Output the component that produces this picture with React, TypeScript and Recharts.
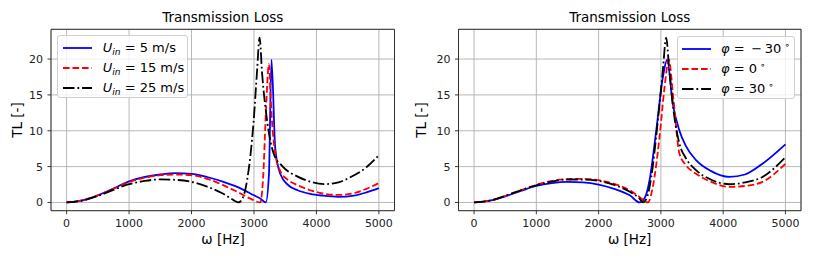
import React from "react";
import { LineChart, Line, XAxis, YAxis, CartesianGrid, ReferenceArea } from "recharts";

const FONT = '"DejaVu Sans", Verdana, sans-serif';

const X_TICKS = [0, 1000, 2000, 3000, 4000, 5000];
const Y_TICKS = [0, 5, 10, 15, 20];
const X_MIN = -250;
const X_MAX = 5250;
const Y_MIN = -1.15;
const Y_MAX = 24.15;

// left panel: inlet velocity U_in
const freqU5 = [0, 250, 500, 750, 1000, 1250, 1500, 1750, 2000, 2250, 2500, 2750, 3000, 3100, 3190, 3240, 3280, 3340, 3420, 3550, 3700, 3900, 4100, 4350, 4600, 4800, 5000];
const tlU5 = [0, 0.3, 1.0, 1.95, 2.95, 3.55, 3.9, 4.08, 4.0, 3.55, 2.9, 2.1, 1.0, 0.55, 0, 4.0, 19.9, 7.6, 4.0, 2.4, 1.7, 1.2, 0.95, 0.78, 0.95, 1.4, 2.0];

const freqU15 = [0, 250, 500, 750, 1000, 1250, 1500, 1750, 2000, 2250, 2500, 2750, 2950, 3100, 3150, 3190, 3240, 3265, 3290, 3345, 3420, 3550, 3700, 3900, 4100, 4350, 4600, 4800, 5000];
const tlU15 = [0, 0.3, 1.0, 1.9, 2.85, 3.45, 3.8, 3.9, 3.8, 3.3, 2.45, 1.4, 0.5, 0, 4.0, 12.5, 19.3, 15.0, 11.2, 6.6, 4.4, 3.1, 2.4, 1.7, 1.25, 1.05, 1.3, 1.9, 2.7];

const freqU25 = [0, 250, 500, 750, 1000, 1250, 1500, 1750, 2000, 2250, 2500, 2650, 2750, 2800, 2890, 2995, 3050, 3090, 3130, 3210, 3316, 3450, 3700, 3900, 4120, 4350, 4550, 4800, 5000];
const tlU25 = [0, 0.25, 0.9, 1.75, 2.55, 3.0, 3.22, 3.15, 2.87, 2.2, 1.25, 0.45, 0, 0.3, 3.1, 11.4, 18.4, 23.0, 18.0, 11.4, 6.8, 5.1, 3.6, 2.9, 2.55, 2.8, 3.55, 4.9, 6.6];

// right panel: angle phi
const freqPhiM30 = [0, 250, 500, 750, 1000, 1250, 1500, 1750, 2000, 2250, 2500, 2660, 2750, 2818, 2925, 3031, 3100, 3191, 3298, 3400, 3565, 3800, 4099, 4350, 4632, 5000];
const tlPhiM30 = [0, 0.25, 0.85, 1.6, 2.3, 2.7, 2.87, 2.8, 2.5, 1.9, 1.0, 0, 0.8, 3.1, 10.0, 17.4, 19.9, 13.75, 10.0, 7.9, 5.9, 4.4, 3.56, 3.9, 5.4, 8.1];

const freqPhi0 = [0, 250, 500, 750, 1000, 1250, 1500, 1750, 2000, 2250, 2500, 2650, 2790, 2871, 2978, 3058, 3127, 3200, 3298, 3400, 3565, 3800, 4099, 4350, 4632, 5000];
const tlPhi0 = [0, 0.25, 0.9, 1.7, 2.45, 3.0, 3.25, 3.3, 3.1, 2.6, 1.7, 0.8, 0, 2.2, 9.1, 16.0, 19.9, 14.5, 6.8, 5.2, 4.0, 2.9, 2.17, 2.3, 2.87, 5.4];

const freqPhi30 = [0, 250, 500, 750, 1000, 1250, 1500, 1750, 2000, 2250, 2500, 2650, 2712, 2780, 2845, 2951, 3031, 3085, 3130, 3200, 3298, 3400, 3565, 3800, 4099, 4350, 4632, 5000];
const tlPhi30 = [0, 0.25, 0.9, 1.7, 2.4, 2.9, 3.2, 3.2, 3.0, 2.45, 1.5, 0.6, 0, 0.8, 3.5, 11.4, 18.4, 23.0, 19.0, 13.0, 8.2, 6.2, 4.5, 3.2, 2.54, 2.8, 3.56, 6.3];

const toPoints = (xs: number[], ys: number[]) => xs.map((x, i) => ({ x, y: ys[i] }));

const LW = 1.8;
const SOLID = undefined;
const DASHED = "6.6 2.9";
const DASHDOT = "11.5 2.9 1.8 2.9";

const Sub = ({ children }: { children: React.ReactNode }) => (
  <span style={{ fontSize: "0.7em", fontStyle: "italic", position: "relative", top: "0.3em" }}>{children}</span>
);

const Deg = () => (
  <span style={{ fontSize: "0.7em", position: "relative", top: "-0.5em", marginLeft: 3 }}>∘</span>
);

const uLabel = (v: number) => (
  <span>
    <i>U</i>
    <Sub>in</Sub> = {v} m/s
  </span>
);

const phiLabel = (v: string) => (
  <span>
    <i>φ</i> = {v}
    <Deg />
  </span>
);

type Series = { key: string; label: React.ReactNode; color: string; dash?: string; data: { x: number; y: number }[] };

const leftSeries: Series[] = [
  { key: "u5", label: uLabel(5), color: "#0000ff", dash: SOLID, data: toPoints(freqU5, tlU5) },
  { key: "u15", label: uLabel(15), color: "#ff0000", dash: DASHED, data: toPoints(freqU15, tlU15) },
  { key: "u25", label: uLabel(25), color: "#000000", dash: DASHDOT, data: toPoints(freqU25, tlU25) },
];

const rightSeries: Series[] = [
  { key: "pm30", label: phiLabel("\u2009\u2212\u200930"), color: "#0000ff", dash: SOLID, data: toPoints(freqPhiM30, tlPhiM30) },
  { key: "p0", label: phiLabel("0"), color: "#ff0000", dash: DASHED, data: toPoints(freqPhi0, tlPhi0) },
  { key: "p30", label: phiLabel("30"), color: "#000000", dash: DASHDOT, data: toPoints(freqPhi30, tlPhi30) },
];

const LegendBox = ({ series, left, top, width, height, sampleX, textX }: {
  series: Series[]; left: number; top: number; width: number; height: number; sampleX: number; textX: number;
}) => (
  <div
    style={{
      position: "absolute",
      left,
      top,
      width,
      height,
      boxSizing: "border-box",
      border: "1px solid #d0d0d0",
      borderRadius: 3,
      background: "rgba(255,255,255,0.8)",
      fontFamily: FONT,
      fontSize: 13,
      color: "#000",
    }}
  >
    {series.map((s, i) => (
      <div key={s.key} style={{ position: "absolute", left: 0, top: 2 + i * 20, height: 20, width: "100%" }}>
        <svg style={{ position: "absolute", left: sampleX, top: 0 }} width={29} height={20}>
          <line x1={0} x2={29} y1={10} y2={10} stroke={s.color} strokeWidth={LW} strokeDasharray={s.dash} />
        </svg>
        <div style={{ position: "absolute", left: textX, top: 1, lineHeight: "18px", whiteSpace: "nowrap" }}>{s.label}</div>
      </div>
    ))}
  </div>
);

const Panel = ({ series, width, margin }: { series: Series[]; width: number; margin: { top: number; right: number; bottom: number; left: number } }) => (
  <LineChart width={width} height={261} margin={margin}>
    <CartesianGrid stroke="#b0b0b0" strokeWidth={0.9} />
    <XAxis
      dataKey="x"
      type="number"
      domain={[X_MIN, X_MAX]}
      ticks={X_TICKS}
      height={25}
      axisLine={false}
      tickSize={3.5}
      tickMargin={5}
      tickLine={{ stroke: "#222", strokeWidth: 0.9 }}
      tick={{ fontSize: 11, fontFamily: FONT, fill: "#222" }}
      allowDataOverflow
    />
    <YAxis
      dataKey="y"
      type="number"
      domain={[Y_MIN, Y_MAX]}
      ticks={Y_TICKS}
      width={40}
      axisLine={false}
      tickSize={3.5}
      tickMargin={4.5}
      tickLine={{ stroke: "#222", strokeWidth: 0.9 }}
      tick={{ fontSize: 11, fontFamily: FONT, fill: "#222" }}
      allowDataOverflow
    />
    {series.map((s) => (
      <Line
        key={s.key}
        data={s.data}
        dataKey="y"
        type="monotone"
        stroke={s.color}
        strokeWidth={LW}
        strokeDasharray={s.dash}
        dot={false}
        activeDot={false}
        isAnimationActive={false}
      />
    ))}
    <ReferenceArea x1={X_MIN} x2={X_MAX} y1={Y_MIN} y2={Y_MAX} fill="none" fillOpacity={0} stroke="#222" strokeWidth={0.9} ifOverflow="visible" />
  </LineChart>
);

const textStyle = { fontFamily: FONT, fontSize: 13.5, fill: "#000" };

export default function App() {
  return (
    <div style={{ position: "absolute", left: 0, top: 0, width: 814, height: 261, background: "#fff" }}>
      <div style={{ position: "absolute", left: 0, top: 0 }}>
        <Panel series={leftSeries} width={404} margin={{ top: 29.3, right: 9.5, bottom: 25.3, left: 11 }} />
      </div>
      <div style={{ position: "absolute", left: 404, top: 0 }}>
        <Panel series={rightSeries} width={410} margin={{ top: 29.3, right: 13, bottom: 25.3, left: 14.5 }} />
      </div>
      <svg style={{ position: "absolute", left: 0, top: 0, pointerEvents: "none" }} width={814} height={261}>
        <text x={222.7} y={22} textAnchor="middle" style={textStyle}>Transmission Loss</text>
        <text x={629.7} y={22} textAnchor="middle" style={textStyle}>Transmission Loss</text>
        <text x={223} y={244} textAnchor="middle" style={textStyle}>ω [Hz]</text>
        <text x={629.7} y={244} textAnchor="middle" style={textStyle}>ω [Hz]</text>
        <text x={21.5} y={120} textAnchor="middle" transform="rotate(-90 21.5 120)" style={textStyle}>TL [-]</text>
        <text x={426} y={120} textAnchor="middle" transform="rotate(-90 426 120)" style={textStyle}>TL [-]</text>
      </svg>
      <LegendBox series={leftSeries} left={57.3} top={35} width={131} height={63} sampleX={5} textX={44.4} />
      <LegendBox series={rightSeries} left={676.7} top={36} width={118.5} height={63} sampleX={4.3} textX={43.3} />
    </div>
  );
}
